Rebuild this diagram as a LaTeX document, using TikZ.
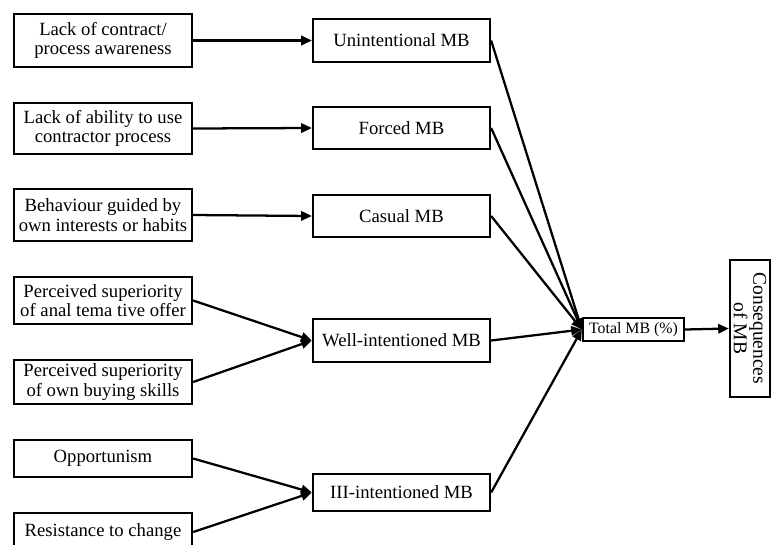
\documentclass[tikz,border=0pt]{standalone}
\usepackage{fontspec}
\setmainfont{Liberation Serif}
\usetikzlibrary{arrows.meta}
\tikzset{
  box/.style={draw=black, line width=1.7pt, rectangle, inner sep=0pt, align=center,
    font=\fontsize{14}{14.5}\selectfont},
  lbox/.style={box, minimum width=133.5pt},
  mbox/.style={box, minimum width=132.75pt},
  conn/.style={line width=1.7pt, -{Triangle[length=8pt,width=7pt]}},
}
\begin{document}
\begin{tikzpicture}[x=0.75pt,y=-0.75pt]
\useasboundingbox (0,0) rectangle (772,544);
% left boxes
\node[lbox, minimum height=39.75pt] (a1) at (103,40.5) {Lack of contract/\\process awareness};
\node[lbox, minimum height=38.25pt] (a2) at (103,128.5) {Lack of ability to use\\contractor process};
\node[lbox, minimum height=39pt] (a3) at (103,215) {Behaviour guided by\\own interests or habits};
\node[lbox, minimum height=35.25pt] (a4) at (103,300.5) {Perceived superiority\\of anal tema tive offer};
\node[lbox, minimum height=33pt] (a5) at (103,382) {Perceived superiority\\of own buying skills};
\node[lbox, minimum height=27.75pt] (a6) at (103,458.5) {Opportunism};
\node[lbox, minimum height=28.5pt] (a7) at (103,532) {Resistance to change};
% middle boxes
\node[mbox, minimum height=32.25pt] (m1) at (401.5,40.5) {Unintentional MB};
\node[mbox, minimum height=31.5pt] (m2) at (401.5,128) {Forced MB};
\node[mbox, minimum height=31.5pt] (m3) at (401.5,216) {Casual MB};
\node[mbox, minimum height=32.25pt] (m4) at (401.5,340.5) {Well-intentioned MB};
\node[mbox, minimum height=27.75pt] (m5) at (401.5,492.5) {III-intentioned MB};
% total and consequences
\node[box, minimum width=75.75pt, minimum height=17.25pt, font=\fontsize{11.9}{13}\selectfont] (t) at (633.5,329.5) {Total MB (\%)};
\node[box, rotate=-90, minimum width=102.75pt, minimum height=30pt, font=\fontsize{14.6}{14.5}\selectfont] (c) at (750,328.5) {Consequences\\of MB};
% connectors
\draw[conn] (a1.east) -- (m1.west);
\draw[conn] (a2.east) -- (m2.west);
\draw[conn] (a3.east) -- (m3.west);
\draw[conn] (a4.east) -- (m4.west);
\draw[conn] (a5.east) -- (m4.west);
\draw[conn] (a6.east) -- (m5.west);
\draw[conn] (a7.east) -- (m5.west);
\draw[conn] (m1.east) -- (t.west);
\draw[conn] (m2.east) -- (t.west);
\draw[conn] (m3.east) -- (t.west);
\draw[conn] (m4.east) -- (t.west);
\draw[conn] (m5.east) -- (t.west);
\draw[conn] (t.east) -- (c.south);
\end{tikzpicture}
\end{document}
